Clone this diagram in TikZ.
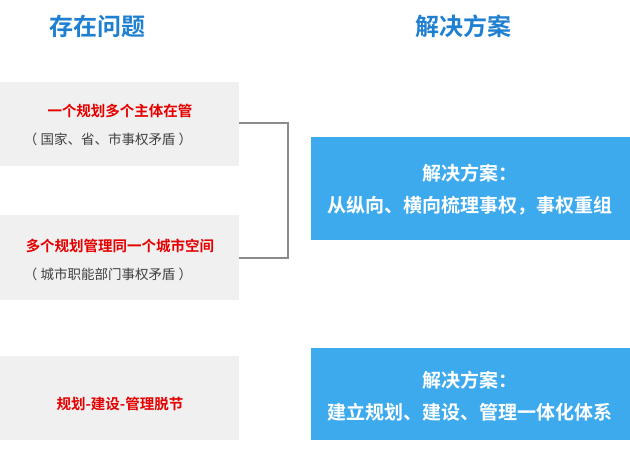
\documentclass[tikz,border=0pt]{standalone}
\usepackage{fontspec}
\newfontfamily\cjk{Noto Sans CJK SC}
\newfontfamily\cjkb{Noto Sans CJK SC Bold}
\definecolor{hdblue}{HTML}{1F7FD0}
\definecolor{boxblue}{HTML}{3DAAEE}
\begin{document}
\begin{tikzpicture}[x=1pt,y=-1pt,
 grey/.style={fill=black!6,draw=none},
 blue/.style={fill=boxblue,draw=none},
 hd/.style={text=hdblue,font=\cjkb\fontsize{24}{28}\selectfont},
 red/.style={text=red!90!black,font=\cjkb\fontsize{14.5}{17}\selectfont},
 sub/.style={text=black!75,font=\cjk\fontsize{13.5}{16}\selectfont},
 wt/.style={text=white,font=\cjkb\fontsize{19}{22}\selectfont,align=center}]
\useasboundingbox (0,0) rectangle (630,453);
\node[hd] (h1) at (97,26) {存在问题};
\node[hd] (h2) at (463,26) {解决方案};
\fill[grey] (0,82) rectangle (239,166);
\fill[grey] (0,215) rectangle (239,300);
\fill[grey] (0,356) rectangle (239,440);
\coordinate (b1) at (239,123);
\coordinate (b2) at (239,258);
\draw[black!45,line width=1.5pt] (b1) -| (288,258) -- (b2);
\node[red] (t1) at (120,111) {一个规划多个主体在管};
\node[sub] (s1) at (108,139) {（ 国家、省、市事权矛盾 ）};
\node[red] (t2) at (120,246) {多个规划管理同一个城市空间};
\node[sub] (s2) at (108,274) {（ 城市职能部门事权矛盾 ）};
\node[red] (t3) at (120,404) {规划-建设-管理脱节};
\fill[blue] (311,137) rectangle (630,240);
\fill[blue] (311,348) rectangle (630,440);
\node[wt] (r1) at (470,190) {解决方案：\\[10pt]从纵向、横向梳理事权，事权重组};
\node[wt] (r2) at (470,396) {解决方案：\\[10pt]建立规划、建设、管理一体化体系};
\end{tikzpicture}
\end{document}
